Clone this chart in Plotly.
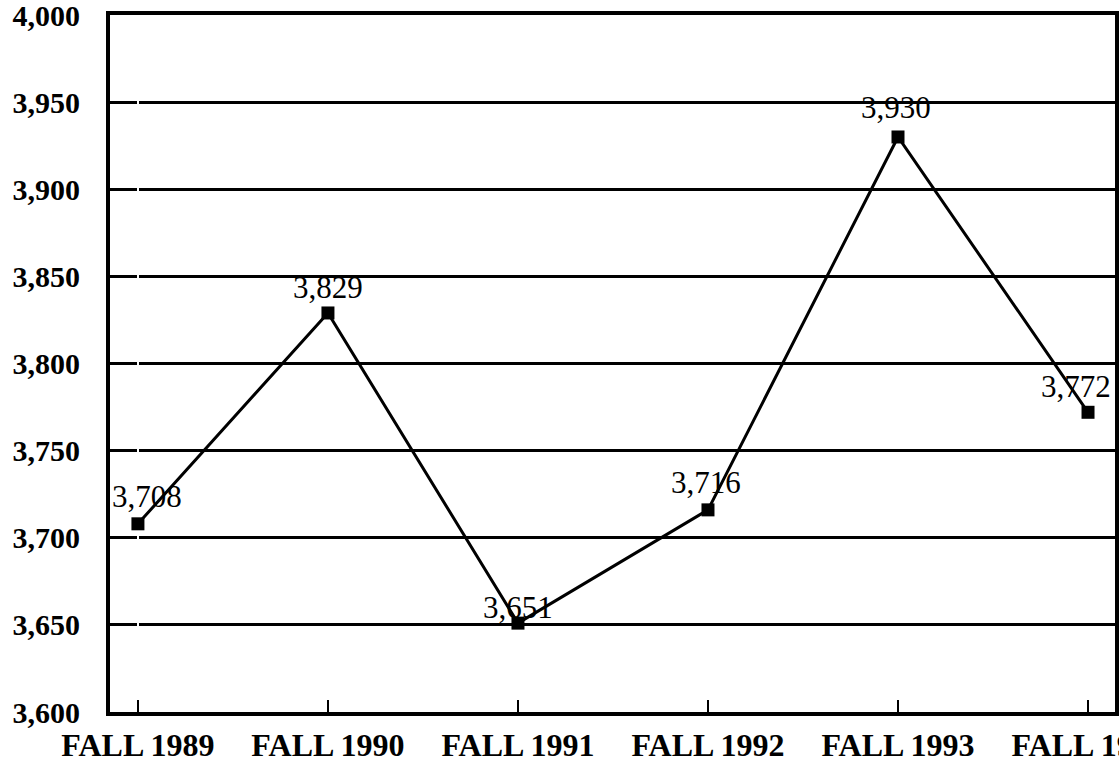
import plotly.graph_objects as go

categories = ["FALL 1989", "FALL 1990", "FALL 1991", "FALL 1992", "FALL 1993", "FALL 1994"]
values = [3708, 3829, 3651, 3716, 3930, 3772]
y_ticks = [3600, 3650, 3700, 3750, 3800, 3850, 3900, 3950, 4000]
y_tick_labels = ["3,600", "3,650", "3,700", "3,750", "3,800", "3,850", "3,900", "3,950", "4,000"]

# label offsets (pixels) - style only
label_xshift = [9, 0, 0, -2, -2, -12]
label_yshift = [8, 6, -4, 8, 10, 6]

xs = list(range(len(categories)))
fig = go.Figure()
fig.add_trace(go.Scatter(
    x=xs, y=values, mode="lines+markers",
    line=dict(color="black", width=3),
    marker=dict(symbol="square", size=13, color="black"),
    cliponaxis=False,
    showlegend=False,
))

for i, (x, v) in enumerate(zip(xs, values)):
    fig.add_annotation(
        x=x, y=v, text=f"{v:,}", showarrow=False,
        xanchor="center", yanchor="bottom",
        xshift=label_xshift[i], yshift=label_yshift[i],
        font=dict(family="Liberation Serif", size=31, color="black"),
    )

fig.update_layout(
    width=1119, height=775,
    margin=dict(l=110, r=4, t=15, b=63),
    paper_bgcolor="white", plot_bgcolor="white",
    font=dict(family="Liberation Serif", color="black"),
)
fig.update_xaxes(
    tickvals=xs, ticktext=categories, range=[-0.147, 5.142],
    showgrid=False, ticks="inside", ticklen=12, tickwidth=2, tickcolor="black",
    showline=True, linecolor="black", linewidth=4, mirror=True,
    ticklabeloverflow="allow", automargin=False, ticklabelstandoff=2,
    tickfont=dict(family="Liberation Serif", size=32, color="black", weight="bold"),
)
fig.update_yaxes(
    tickvals=y_ticks, ticktext=y_tick_labels, range=[3600, 4000],
    showgrid=True, gridcolor="black", gridwidth=3,
    showline=True, linecolor="black", linewidth=4, mirror=True,
    ticks="", zeroline=False, ticklabelstandoff=20,
    ticklabeloverflow="allow", automargin=False,
    tickfont=dict(family="Liberation Serif", size=30, color="black", weight="bold"),
)
fig.write_html(
    "out.html",
    config={"displayModeBar": False},
    post_script="document.body.style.margin='0';document.body.style.overflow='hidden';",
)
